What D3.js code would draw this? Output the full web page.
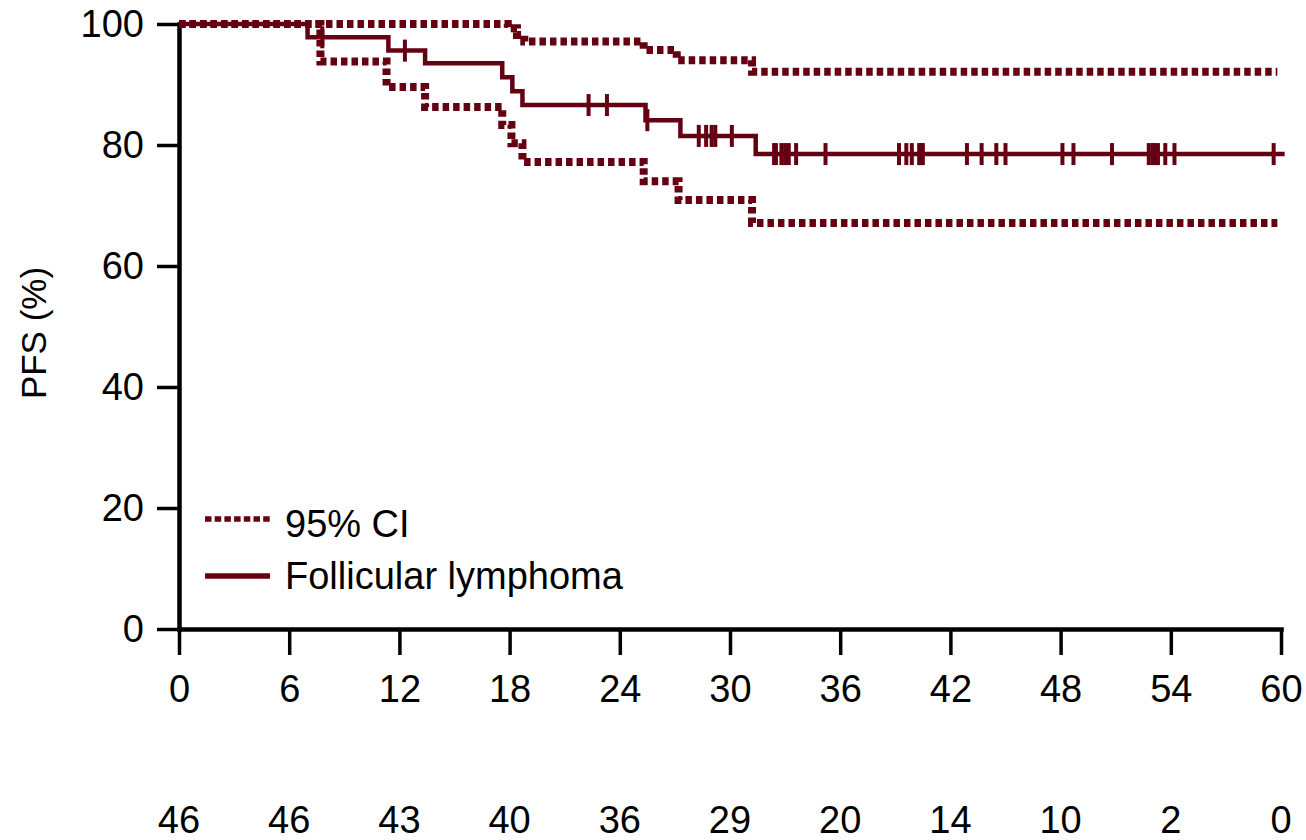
<!DOCTYPE html>
<html>
<head>
<meta charset="utf-8">
<script src="https://cdn.jsdelivr.net/npm/d3@7"></script>
<style>
  body { margin: 0; background: #fff; }
  text { font-family: "Liberation Sans", Arial, sans-serif; }
</style>
</head>
<body>
<div id="wrapper"></div>
<script>
// months on x axis and number at risk under each tick
const months = [0, 6, 12, 18, 24, 30, 36, 42, 48, 54, 60];
const atRisk = [46, 46, 43, 40, 36, 29, 20, 14, 10, 2, 0];
const yTicks = [0, 20, 40, 60, 80, 100];

// Kaplan-Meier estimate (step after)
const pfsTimes = [0, 7.0, 11.4, 13.4, 17.6, 18.15, 18.7, 25.4, 27.3, 31.4, 60.2];
const pfsValues = [100, 97.8, 95.6, 93.5, 91.2, 88.9, 86.6, 84.1, 81.5, 78.5, 78.5];

// 95% CI bounds
const upperTimes = [0, 17.9, 18.4, 18.8, 25.3, 27.1, 31.2, 59.8];
const upperValues = [100, 99.3, 98.2, 97.1, 95.7, 94.0, 92.1, 92.1];
const lowerTimes = [0, 7.7, 11.3, 13.4, 17.6, 18.1, 18.7, 25.3, 27.2, 31.2, 59.8];
const lowerValues = [100, 93.8, 89.6, 86.3, 83.3, 80.3, 77.2, 74.0, 70.9, 67.1, 67.1];

// censored patients (months)
const censorTimes = [7.8, 12.3, 22.3, 23.3, 25.5, 28.3, 28.7, 29.0, 29.2, 30.1,
  32.4, 32.5, 32.8, 33.0, 33.2, 33.6, 35.2, 39.2, 39.6, 39.9, 40.3, 40.4, 40.5,
  42.9, 43.7, 44.5, 45.0, 48.1, 48.7, 50.8, 52.8, 53.0, 53.1, 53.3, 53.7, 54.2, 59.6];

const legendLabels = ["95% CI", "Follicular lymphoma"];

function drawChart(){
    const color = "#650012";

    let dimensions = {
        width: 1306,
        height: 840,
        margin: { top: 24, right: 25, bottom: 211, left: 179 }
    };
    dimensions.boundedWidth = dimensions.width - dimensions.margin.left - dimensions.margin.right;
    dimensions.boundedHeight = dimensions.height - dimensions.margin.top - dimensions.margin.bottom;

    const svg = d3.select("#wrapper")
        .append("svg")
            .attr("width", dimensions.width)
            .attr("height", dimensions.height);

    const bounds = svg.append("g")
        .attr("transform", `translate(${dimensions.margin.left},${dimensions.margin.top})`);

    const xScale = d3.scaleLinear()
        .domain([0, 60])
        .range([0, dimensions.boundedWidth]);
    const yScale = d3.scaleLinear()
        .domain([0, 100])
        .range([dimensions.boundedHeight, 0]);

    const zip = (ts, vs) => ts.map((t, i) => ({ t: t, v: vs[i] }));
    const pfs = zip(pfsTimes, pfsValues);
    const upper = zip(upperTimes, upperValues);
    const lower = zip(lowerTimes, lowerValues);

    const stepLine = d3.line()
        .x(d => xScale(d.t))
        .y(d => yScale(d.v))
        .curve(d3.curveStepAfter);

    // axes
    const yAxis = bounds.append("g")
        .call(d3.axisLeft(yScale).tickValues(yTicks).tickSize(22).tickSizeOuter(0).tickPadding(13));
    const xAxis = bounds.append("g")
        .attr("transform", `translate(0,${dimensions.boundedHeight})`)
        .call(d3.axisBottom(xScale).tickValues(months).tickSize(26).tickSizeOuter(0).tickPadding(20));

    [yAxis, xAxis].forEach(ax => {
        ax.select(".domain").attr("stroke", "#000").attr("stroke-width", 4.5).attr("stroke-linecap", "square");
        ax.selectAll(".tick line").attr("stroke", "#000").attr("stroke-width", 3.5);
        ax.selectAll(".tick text")
            .attr("fill", "#000")
            .style("font-size", "38px")
            .style("font-family", "'Liberation Sans', Arial, sans-serif");
    });

    // number at risk row
    bounds.append("g")
        .selectAll("text")
        .data(months)
        .join("text")
            .attr("x", d => xScale(d))
            .attr("y", 809)
            .attr("text-anchor", "middle")
            .style("font-size", "38px")
            .text((d, i) => atRisk[i]);

    // y label
    svg.append("text")
        .attr("transform", "rotate(-90)")
        .attr("x", -333)
        .attr("y", 46)
        .attr("text-anchor", "middle")
        .style("font-size", "35px")
        .text("PFS (%)");

    // confidence bounds
    [upper, lower].forEach(series => {
        bounds.append("path")
            .datum(series)
            .attr("d", stepLine)
            .attr("fill", "none")
            .attr("stroke", color)
            .attr("stroke-width", 8)
            .attr("stroke-dasharray", "6.5,4");
    });

    // estimate
    bounds.append("path")
        .datum(pfs)
        .attr("d", stepLine)
        .attr("fill", "none")
        .attr("stroke", color)
        .attr("stroke-width", 4.5);

    // censor ticks sit on the curve
    const bisect = d3.bisector(d => d.t).right;
    const valueAt = t => pfs[bisect(pfs, t) - 1].v;
    bounds.append("g")
        .selectAll("line")
        .data(censorTimes)
        .join("line")
            .attr("x1", d => xScale(d))
            .attr("x2", d => xScale(d))
            .attr("y1", d => yScale(valueAt(d)) - 11)
            .attr("y2", d => yScale(valueAt(d)) + 11)
            .attr("stroke", color)
            .attr("stroke-width", 4);

    // legend
    const legend = svg.append("g");
    legend.append("line")
        .attr("x1", 205).attr("x2", 270)
        .attr("y1", 519).attr("y2", 519)
        .attr("stroke", color)
        .attr("stroke-width", 5.5)
        .attr("stroke-dasharray", "6.5,3.2");
    legend.append("line")
        .attr("x1", 205).attr("x2", 270)
        .attr("y1", 576).attr("y2", 576)
        .attr("stroke", color)
        .attr("stroke-width", 5.5);
    legend.selectAll("text")
        .data(legendLabels)
        .join("text")
            .attr("x", 285)
            .attr("y", (d, i) => i == 0 ? 537 : 589)
            .style("font-size", "38px")
            .text(d => d);
}

drawChart();
</script>
</body>
</html>
